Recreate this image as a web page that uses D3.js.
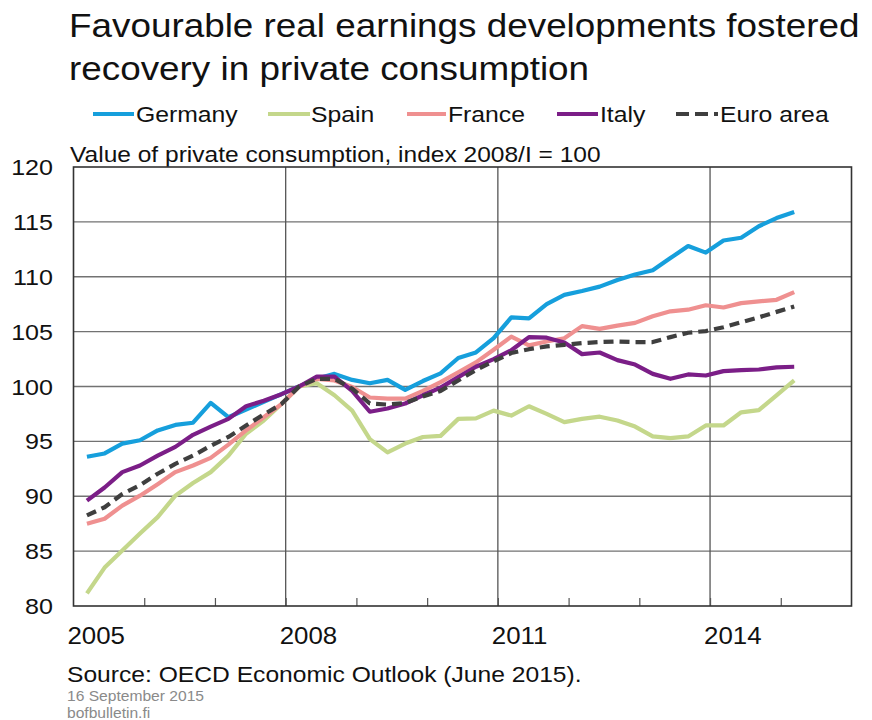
<!DOCTYPE html>
<html>
<head>
<meta charset="utf-8">
<script src="https://cdn.jsdelivr.net/npm/d3@7"></script>
<style>
  html, body { margin: 0; padding: 0; background: #fff; }
  svg { display: block; }
  text { font-family: "Liberation Sans", Arial, Helvetica, sans-serif; fill: #111; }
</style>
</head>
<body>
<svg id="chart" width="872" height="720"></svg>
<script>
// ---- Data ----
const titleLines = ["Favourable real earnings developments fostered", "recovery in private consumption"];
const subtitle = "Value of private consumption, index 2008/I = 100";
const sourceText = "Source: OECD Economic Outlook (June 2015).";
const dateText = "16 September  2015";
const siteText = "bofbulletin.fi";

const years = [2005, 2006, 2007, 2008, 2009, 2010, 2011, 2012, 2013, 2014, 2015];
const quarterNames = ["I", "II", "III", "IV"];
const xTickLabels = [2005, 2008, 2011, 2014];
const yTicks = [80, 85, 90, 95, 100, 105, 110, 115, 120];

const seriesNames = ["Germany", "Spain", "France", "Italy", "Euro area"];

const germany = [93.6, 93.9, 94.8, 95.1, 96.0, 96.5, 96.7, 98.5, 97.2, 97.9, 98.6, 99.3,
  100, 100.7, 101.15, 100.6, 100.3, 100.6, 99.7, 100.5, 101.2, 102.6, 103.1, 104.4,
  106.3, 106.2, 107.5, 108.35, 108.7, 109.1, 109.7, 110.2, 110.6, 111.7, 112.8, 112.2,
  113.3, 113.55, 114.6, 115.35, 115.9];
const spain = [81.15, 83.5, 85.05, 86.6, 88.1, 90.05, 91.2, 92.2, 93.7, 95.7, 96.9, 98.4,
  100, 100.3, 99.2, 97.8, 95.2, 94.0, 94.8, 95.4, 95.5, 97.05, 97.1, 97.8,
  97.35, 98.2, 97.5, 96.75, 97.05, 97.25, 96.9, 96.35, 95.45, 95.3, 95.45, 96.45,
  96.45, 97.65, 97.85, 99.2, 100.55];
const france = [87.5, 87.95, 89.15, 90.05, 91.1, 92.2, 92.8, 93.5, 94.7, 96.0, 97.2, 98.4,
  100, 100.7, 100.55, 99.95, 99.0, 98.9, 98.9, 99.6, 100.4, 101.3, 102.2, 103.35,
  104.55, 103.75, 104.1, 104.4, 105.5, 105.25, 105.55, 105.8, 106.4, 106.85, 107.0, 107.4,
  107.2, 107.6, 107.75, 107.9, 108.6];
const italy = [89.6, 90.8, 92.2, 92.8, 93.7, 94.5, 95.6, 96.35, 97.05, 98.2, 98.7, 99.3,
  100, 100.9, 100.9, 99.6, 97.7, 98.0, 98.45, 99.2, 99.9, 100.85, 101.8, 102.5,
  103.3, 104.5, 104.45, 104.0, 102.95, 103.1, 102.4, 102.0, 101.15, 100.7, 101.1, 101.0,
  101.4, 101.5, 101.55, 101.75, 101.8];
const euroArea = [88.25, 89.0, 90.2, 91.0, 92.05, 92.95, 93.7, 94.6, 95.4, 96.45, 97.45, 98.4,
  100, 100.7, 100.7, 99.8, 98.45, 98.35, 98.5, 99.1, 99.6, 100.55, 101.5, 102.3,
  103.05, 103.4, 103.65, 103.8, 103.95, 104.05, 104.1, 104.05, 104.05, 104.5, 104.9, 105.05,
  105.4, 105.85, 106.3, 106.8, 107.3];

// quarter categories 2005/I ... 2015/I
const quarters = [];
years.forEach(y => quarterNames.forEach((q, qi) => quarters.push({ label: y + "/" + q, t: y + qi / 4 })));
const periods = quarters.slice(0, germany.length);

const seriesValues = [germany, spain, france, italy, euroArea];
const colors = ["#169fdc", "#c4d78b", "#ef9090", "#7b1e87", "#3f3f3f"];
const dashes = [null, null, null, null, "10,6"];

// ---- Layout ----
const svg = d3.select("#chart");
const plot = { left: 73.5, right: 851.5, top: 167, bottom: 606 };
const stretch = 1.1;
const qOffset = 0.19;

const x = d3.scaleLinear().domain([2005, 2016]).range([plot.left, plot.right]);
const y = d3.scaleLinear().domain([80, 120]).range([plot.bottom, plot.top]);

function stext(g, tx, ty, str, size, opts = {}) {
  return g.append("text")
    .attr("transform", `translate(${tx},${ty}) scale(${stretch},1)`)
    .attr("font-size", size)
    .attr("text-anchor", opts.anchor || "start")
    .style("fill", opts.fill || "#111")
    .text(str);
}

// Title
stext(svg, 69, 37, titleLines[0], 33.5);
stext(svg, 69, 80, titleLines[1], 33.5);

// Legend
const legendItems = [
  { x1: 93, x2: 134, tx: 136 },
  { x1: 268, x2: 310, tx: 311 },
  { x1: 407, x2: 446, tx: 448 },
  { x1: 557, x2: 598, tx: 600 },
  { x1: 676, x2: 720, tx: 720 }
];
seriesNames.forEach((name, i) => {
  const it = legendItems[i];
  svg.append("line")
    .attr("x1", it.x1).attr("x2", it.x2).attr("y1", 114).attr("y2", 114)
    .attr("stroke", colors[i]).attr("stroke-width", 4)
    .attr("stroke-dasharray", dashes[i] ? "13,6,13,6,4" : null);
  stext(svg, it.tx, 122, name, 22.5);
});

// Subtitle
stext(svg, 70, 162, subtitle, 22.3);

// Grid
const grid = svg.append("g");
grid.selectAll("line.h").data(yTicks.filter(v => v > 80 && v < 120)).enter().append("line")
  .attr("x1", plot.left).attr("x2", plot.right)
  .attr("y1", d => y(d)).attr("y2", d => y(d))
  .attr("stroke", "#727272").attr("stroke-width", 1.4);
grid.selectAll("line.v").data(xTickLabels.filter(v => v > 2005)).enter().append("line")
  .attr("x1", d => x(d)).attr("x2", d => x(d))
  .attr("y1", plot.top).attr("y2", plot.bottom)
  .attr("stroke", "#555").attr("stroke-width", 1.3);

// Bottom axis with inner ticks
const xAxis = d3.axisBottom(x).tickValues(years.slice(1)).tickSize(-8).tickFormat("");
const ax = svg.append("g").attr("transform", `translate(0,${plot.bottom})`).call(xAxis);
ax.select(".domain").remove();
ax.selectAll(".tick line").attr("stroke", "#555").attr("stroke-width", 1.2);

// Plot border
svg.append("rect")
  .attr("x", plot.left).attr("y", plot.top)
  .attr("width", plot.right - plot.left).attr("height", plot.bottom - plot.top)
  .attr("fill", "none").attr("stroke", "#333").attr("stroke-width", 1.6);

// Y labels
yTicks.forEach(v => stext(svg, 53, y(v) + 8, String(v), 22.8, { anchor: "end" }));

// X labels
xTickLabels.forEach(v => stext(svg, x(v) - 6, 644, String(v), 23.5));

// Lines
const line = d3.line()
  .x((d, i) => x(periods[i].t + qOffset))
  .y(d => y(d));

seriesValues.forEach((vals, i) => {
  svg.append("path")
    .datum(vals)
    .attr("d", line)
    .attr("fill", "none")
    .attr("stroke", colors[i])
    .attr("stroke-width", 4.2)
    .attr("stroke-linejoin", "round")
    .attr("stroke-dasharray", dashes[i]);
});

// Footer
stext(svg, 67, 682, sourceText, 22.4);
stext(svg, 67, 701, dateText, 14.2, { fill: "#8a8a8a" });
stext(svg, 67, 718, siteText, 14.2, { fill: "#8a8a8a" });
</script>
</body>
</html>
